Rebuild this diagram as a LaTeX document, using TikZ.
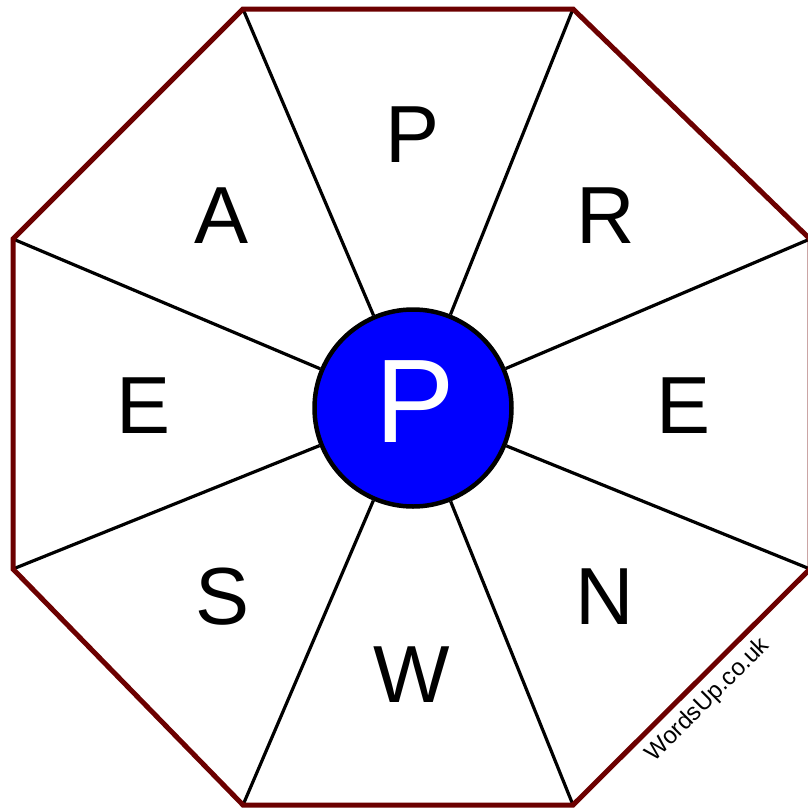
\documentclass[tikz,border=0pt]{standalone}
\usepackage{fontspec}
\setmainfont{Liberation Sans}
\definecolor{rim}{RGB}{108,0,0}
\begin{document}
\begin{tikzpicture}[x=1pt,y=-1pt,
  rimline/.style={draw=rim,line width=5pt,line join=miter},
  spoke/.style={draw=black,line width=3.2pt},
  letter/.style={inner sep=0pt,font=\fontsize{81}{81}\selectfont},
  hub/.style={circle,draw=black,line width=4.5pt,fill=blue,minimum size=197pt,inner sep=0pt},
  hubletter/.style={inner sep=0pt,text=white,font=\fontsize{119}{119}\selectfont},
  credit/.style={inner sep=0pt,rotate=45,font=\fontsize{24}{24}\selectfont}]
\useasboundingbox (0,0) rectangle (808,809);
\coordinate (v1) at (243,9);
\coordinate (v2) at (573,9);
\coordinate (v3) at (810,239);
\coordinate (v4) at (810,569);
\coordinate (v5) at (573,805);
\coordinate (v6) at (243,805);
\coordinate (v7) at (13,569);
\coordinate (v8) at (13,239);
\node[hub] (hub) at (413,408) {};
\foreach \v in {v1,v2,v3,v4,v5,v6,v7,v8}
  \draw[spoke] (\v) -- (hub);
\draw[rimline] (v1) -- (v2) -- (v3) -- (v4) -- (v5) -- (v6) -- (v7) -- (v8) -- cycle;
\node[hubletter] (cp) at (415,402) {P};
\node[letter] (lp) at (413,135) {P};
\node[letter] (lr) at (606,216) {R};
\node[letter] (le1) at (684,406) {E};
\node[letter] (ln) at (605,597) {N};
\node[letter] (lw) at (412,675) {W};
\node[letter] (ls) at (223,597) {S};
\node[letter] (le2) at (144,406) {E};
\node[letter] (la) at (222,216) {A};
\node[credit] (cr) at (708,700) {WordsUp.co.uk};
\end{tikzpicture}
\end{document}
